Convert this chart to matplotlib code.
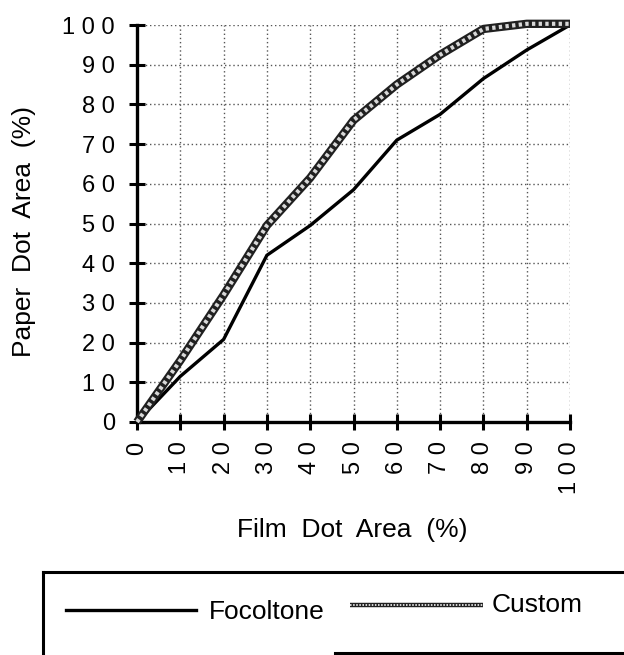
import matplotlib.pyplot as plt
from matplotlib.lines import Line2D
import numpy as np

plt.rcParams['font.family'] = ['Liberation Sans', 'DejaVu Sans']

film_area = [0, 10, 20, 30, 40, 50, 60, 70, 80, 90, 100]
focoltone = [0, 11.5, 20.8, 42, 49.5, 58.5, 71, 77.5, 86.5, 93.7, 100]
custom = [0, 15.5, 32, 49.5, 61.5, 76, 85, 92.5, 99, 100.3, 100.3]

ticks = np.arange(0, 101, 10)
tick_labels = [' '.join(str(t)) for t in ticks]

fig = plt.figure(figsize=(6.24, 6.55), dpi=100)
ax = fig.add_axes([137 / 624, 1 - 422 / 655, 433 / 624, 397 / 655])

# Focoltone: plain black line
ax.plot(film_area, focoltone, color='black', linewidth=2.4, solid_joinstyle='miter', zorder=3)
# Custom: thick textured grey line (black casing + dotted light core)
ax.plot(film_area, custom, color='#202020', linewidth=6, solid_capstyle='butt', zorder=3, clip_on=False)
ax.plot(film_area, custom, color='#d8d8d8', linewidth=3, linestyle=(0, (0.8, 0.8)),
        dash_capstyle='butt', zorder=4, clip_on=False)

ax.set_xlim(0, 100)
ax.set_ylim(0, 100)
ax.set_xticks(ticks)
ax.set_yticks(ticks)
ax.set_xticklabels(tick_labels, rotation=90, fontsize=17)
ax.set_yticklabels(tick_labels, fontsize=17)
ax.tick_params(direction='inout', length=12, width=2.2)
ax.tick_params(axis='x', pad=8)
ax.tick_params(axis='y', pad=10)

ax.grid(True, color='#555555', linestyle=(0, (1, 2)), linewidth=1.0)
ax.set_axisbelow(True)

for side in ['top', 'right']:
    ax.spines[side].set_visible(False)
for side in ['left', 'bottom']:
    ax.spines[side].set_linewidth(2.4)

ax.set_xlabel('Film  Dot  Area  (%)', fontsize=19, va='center')
ax.set_ylabel('Paper  Dot  Area  (%)', fontsize=19, va='center')
ax.xaxis.set_label_coords(0.497, -0.272)
ax.yaxis.set_label_coords(-0.261, 0.48)

# Legend drawn as a box below the plot, in pixel-based figure coords
def px(x, y):
    return x / 624, 1 - y / 655

def fig_line(x0, y0, x1, y1, **kw):
    (a, b), (c, d) = px(x0, y0), px(x1, y1)
    fig.add_artist(Line2D([a, c], [b, d], transform=fig.transFigure, **kw))

fig_line(43, 572, 624, 572, color='black', linewidth=2.2)
fig_line(43, 572, 43, 653, color='black', linewidth=2.2)
fig_line(335, 653, 624, 653, color='black', linewidth=2.2)

fig_line(66, 610, 196, 610, color='black', linewidth=2.4)
fig.text(*px(209, 612), 'Focoltone', fontsize=19, va='center', ha='left')

fig_line(350, 605, 483, 605, color='#202020', linewidth=3.2, solid_capstyle='butt')
fig_line(350, 605, 483, 605, color='#d8d8d8', linewidth=1.4, linestyle=(0, (0.8, 0.8)))
fig.text(*px(492, 605), 'Custom', fontsize=19, va='center', ha='left')

fig.savefig('out.png', dpi=100)
